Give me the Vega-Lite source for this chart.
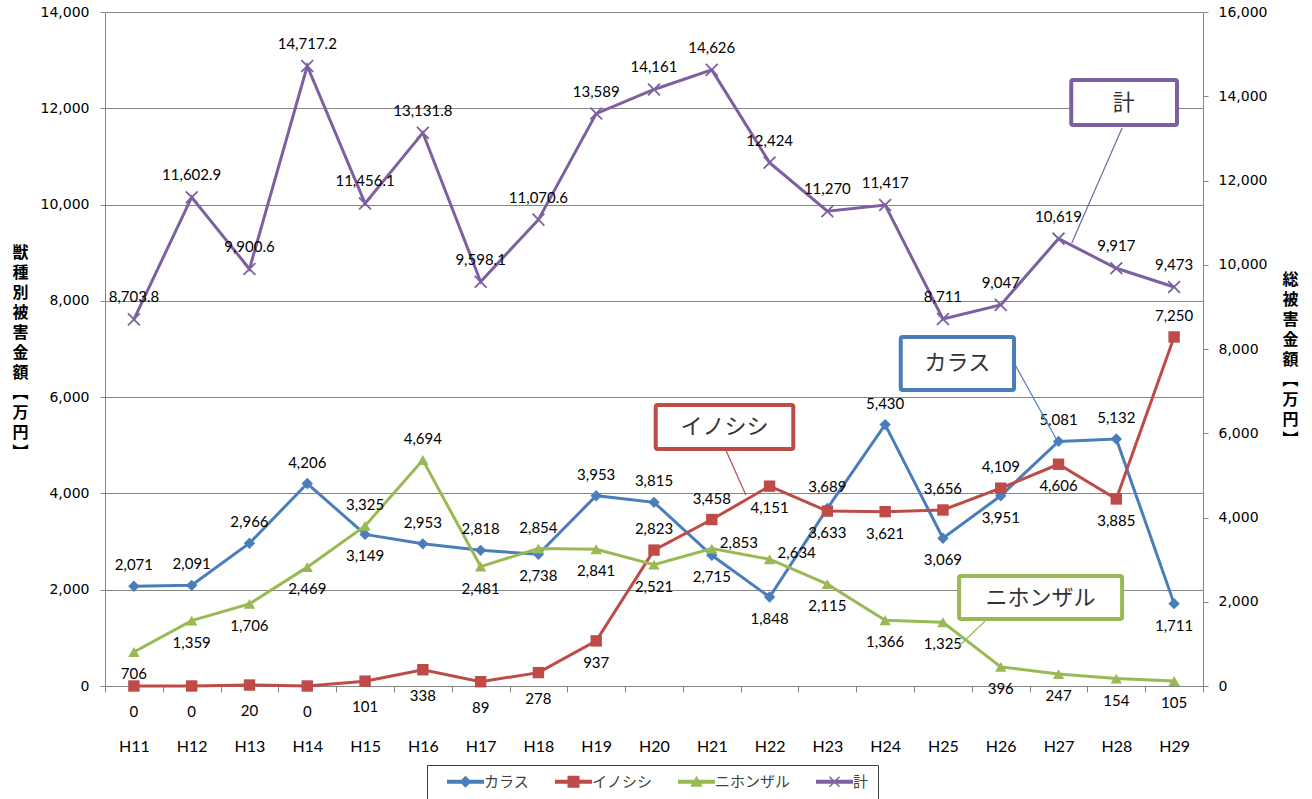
{
  "$schema": "https://vega.github.io/schema/vega-lite/v6.json",
  "width": 1098,
  "height": 674,
  "autosize": {"type": "none"},
  "padding": {"left": 105, "top": 12, "right": 109, "bottom": 113},
  "background": "#ffffff",
  "config": {
    "view": {"stroke": null},
    "axis": {"domainColor": "#868686", "tickColor": "#868686", "gridColor": "#868686", "labelColor": "#000000", "titleColor": "#000000"}
  },
  "datasets": {
    "damage": [
      {"year": 11, "series": "カラス", "value": 2071},
      {"year": 12, "series": "カラス", "value": 2091},
      {"year": 13, "series": "カラス", "value": 2966},
      {"year": 14, "series": "カラス", "value": 4206},
      {"year": 15, "series": "カラス", "value": 3149},
      {"year": 16, "series": "カラス", "value": 2953},
      {"year": 17, "series": "カラス", "value": 2818},
      {"year": 18, "series": "カラス", "value": 2738},
      {"year": 19, "series": "カラス", "value": 3953},
      {"year": 20, "series": "カラス", "value": 3815},
      {"year": 21, "series": "カラス", "value": 2715},
      {"year": 22, "series": "カラス", "value": 1848},
      {"year": 23, "series": "カラス", "value": 3689},
      {"year": 24, "series": "カラス", "value": 5430},
      {"year": 25, "series": "カラス", "value": 3069},
      {"year": 26, "series": "カラス", "value": 3951},
      {"year": 27, "series": "カラス", "value": 5081},
      {"year": 28, "series": "カラス", "value": 5132},
      {"year": 29, "series": "カラス", "value": 1711},
      {"year": 11, "series": "イノシシ", "value": 0},
      {"year": 12, "series": "イノシシ", "value": 0},
      {"year": 13, "series": "イノシシ", "value": 20},
      {"year": 14, "series": "イノシシ", "value": 0},
      {"year": 15, "series": "イノシシ", "value": 101},
      {"year": 16, "series": "イノシシ", "value": 338},
      {"year": 17, "series": "イノシシ", "value": 89},
      {"year": 18, "series": "イノシシ", "value": 278},
      {"year": 19, "series": "イノシシ", "value": 937},
      {"year": 20, "series": "イノシシ", "value": 2823},
      {"year": 21, "series": "イノシシ", "value": 3458},
      {"year": 22, "series": "イノシシ", "value": 4151},
      {"year": 23, "series": "イノシシ", "value": 3633},
      {"year": 24, "series": "イノシシ", "value": 3621},
      {"year": 25, "series": "イノシシ", "value": 3656},
      {"year": 26, "series": "イノシシ", "value": 4109},
      {"year": 27, "series": "イノシシ", "value": 4606},
      {"year": 28, "series": "イノシシ", "value": 3885},
      {"year": 29, "series": "イノシシ", "value": 7250},
      {"year": 11, "series": "ニホンザル", "value": 706},
      {"year": 12, "series": "ニホンザル", "value": 1359},
      {"year": 13, "series": "ニホンザル", "value": 1706},
      {"year": 14, "series": "ニホンザル", "value": 2469},
      {"year": 15, "series": "ニホンザル", "value": 3325},
      {"year": 16, "series": "ニホンザル", "value": 4694},
      {"year": 17, "series": "ニホンザル", "value": 2481},
      {"year": 18, "series": "ニホンザル", "value": 2854},
      {"year": 19, "series": "ニホンザル", "value": 2841},
      {"year": 20, "series": "ニホンザル", "value": 2521},
      {"year": 21, "series": "ニホンザル", "value": 2853},
      {"year": 22, "series": "ニホンザル", "value": 2634},
      {"year": 23, "series": "ニホンザル", "value": 2115},
      {"year": 24, "series": "ニホンザル", "value": 1366},
      {"year": 25, "series": "ニホンザル", "value": 1325},
      {"year": 26, "series": "ニホンザル", "value": 396},
      {"year": 27, "series": "ニホンザル", "value": 247},
      {"year": 28, "series": "ニホンザル", "value": 154},
      {"year": 29, "series": "ニホンザル", "value": 105},
      {"year": 11, "series": "計", "value": 8703.8},
      {"year": 12, "series": "計", "value": 11602.9},
      {"year": 13, "series": "計", "value": 9900.6},
      {"year": 14, "series": "計", "value": 14717.2},
      {"year": 15, "series": "計", "value": 11456.1},
      {"year": 16, "series": "計", "value": 13131.8},
      {"year": 17, "series": "計", "value": 9598.1},
      {"year": 18, "series": "計", "value": 11070.6},
      {"year": 19, "series": "計", "value": 13589},
      {"year": 20, "series": "計", "value": 14161},
      {"year": 21, "series": "計", "value": 14626},
      {"year": 22, "series": "計", "value": 12424},
      {"year": 23, "series": "計", "value": 11270},
      {"year": 24, "series": "計", "value": 11417},
      {"year": 25, "series": "計", "value": 8711},
      {"year": 26, "series": "計", "value": 9047},
      {"year": 27, "series": "計", "value": 10619},
      {"year": 28, "series": "計", "value": 9917},
      {"year": 29, "series": "計", "value": 9473}
    ],
    "callouts": [
      {"series": "計", "label": "計", "x1": 27.22, "x2": 29.05, "y1": 12588, "y2": 11653, "tx": 28.13, "ty": 12110, "lx1": 28.10, "ly1": 11590, "lx2": 27.23, "ly2": 9202},
      {"series": "カラス", "label": "カラス", "x1": 24.27, "x2": 26.23, "y1": 7249, "y2": 6148, "tx": 25.25, "ty": 6700, "lx1": 26.25, "ly1": 6668, "lx2": 26.97, "ly2": 5110},
      {"series": "イノシシ", "label": "イノシシ", "x1": 20.03, "x2": 22.41, "y1": 5837, "y2": 4923, "tx": 21.22, "ty": 5380, "lx1": 21.25, "ly1": 4881, "lx2": 21.59, "ly2": 3967},
      {"series": "ニホンザル", "label": "ニホンザル", "x1": 25.28, "x2": 28.10, "y1": 2285, "y2": 1392, "tx": 26.69, "ty": 1838, "lx1": 25.73, "ly1": 1350, "lx2": 25.26, "ly2": 810}
    ]
  },
  "encoding": {
    "x": {
      "field": "year", "type": "quantitative", "title": null,
      "scale": {"domain": [10.5, 29.5], "nice": false, "zero": false},
      "axis": {
        "values": [10.5, 11.5, 12.5, 13.5, 14.5, 15.5, 16.5, 17.5, 18.5, 19.5, 20.5, 21.5, 22.5, 23.5, 24.5, 25.5, 26.5, 27.5, 28.5, 29.5],
        "labelExpr": "datum.value < 29 ? 'H' + (datum.value + 0.5) : ''",
        "labelOffset": 28.9, "labelFlush": false, "labelOverlap": false, "labelBound": false,
        "tickSize": 6, "labelPadding": 46, "grid": false,
        "labelFont": "Lato", "labelFontSize": 16, "labelColor": "#000000",
        "domainColor": "#868686", "tickColor": "#868686"
      }
    }
  },
  "layer": [
    {
      "data": {"name": "damage"},
      "encoding": {
        "y": {
          "field": "value", "type": "quantitative",
          "scale": {"domain": [0, 14000], "nice": false, "zero": true},
          "axis": {
            "orient": "left",
            "values": [0, 2000, 4000, 6000, 8000, 10000, 12000, 14000],
            "format": ",.0f", "grid": true, "gridColor": "#868686", "gridWidth": 1,
            "tickSize": 5, "labelPadding": 11,
            "labelFont": "DejaVu Sans", "labelFontSize": 14, "labelColor": "#000000",
            "title": ["獣", "種", "別", "被", "害", "金", "額", "︻", "万", "円", "︼"],
            "titleAngle": 0, "titleX": -85, "titleY": 232, "titleAlign": "center", "titleBaseline": "top",
            "titleFont": "Noto Sans CJK JP", "titleFontSize": 16, "titleFontWeight": "bold", "titleLineHeight": 20
          }
        }
      },
      "layer": [
        {
          "transform": [{"filter": "datum.series !== '計'"}],
          "mark": {"type": "line", "strokeWidth": 3},
          "encoding": {
            "color": {
              "field": "series", "type": "nominal",
              "scale": {"domain": ["カラス", "イノシシ", "ニホンザル", "計"], "range": ["#4A7EBB", "#BE4B48", "#98B954", "#7D60A0"]},
              "legend": {
                "orient": "none", "legendX": 322, "legendY": 753, "direction": "horizontal", "title": null,
                "labelFont": "Noto Sans CJK JP", "labelFontSize": 15, "labelColor": "#404040",
                "symbolSize": 100, "labelOffset": 33, "columnPadding": 14, "padding": 9,
                "strokeColor": "#404040", "fillColor": "#ffffff",
                "encode": {
                  "symbols": {
                    "update": {
                      "shape": {"signal": "datum.value === 'カラス' ? 'M0.7,-0.4L8.1,-0.4L8.1,0.4L0.7,0.4ZM4.4,-1.2L5.6,0L4.4,1.2L3.2,0Z' : datum.value === 'イノシシ' ? 'M0.7,-0.4L8.1,-0.4L8.1,0.4L0.7,0.4ZM3.2,-1.2L5.6,-1.2L5.6,1.2L3.2,1.2Z' : datum.value === 'ニホンザル' ? 'M0.7,-0.4L8.1,-0.4L8.1,0.4L0.7,0.4ZM4.4,-1.2L5.65,1L3.15,1Z' : 'M0.7,-0.4L8.1,-0.4L8.1,0.4L0.7,0.4ZM3.3,-0.9L3.5,-1.1L5.5,0.9L5.3,1.1ZM5.3,-1.1L5.5,-0.9L3.5,1.1L3.3,0.9Z'"},
                      "fill": {"signal": "scale('color', datum.value)"},
                      "stroke": {"value": "transparent"},
                      "strokeWidth": {"value": 0},
                      "opacity": {"value": 1}
                    }
                  }
                }
              }
            }
          }
        },
        {
          "transform": [{"filter": "datum.series !== '計'"}],
          "mark": {"type": "point", "filled": true, "size": 130, "opacity": 1},
          "encoding": {
            "color": {"field": "series", "type": "nominal", "scale": {"domain": ["カラス", "イノシシ", "ニホンザル", "計"], "range": ["#4A7EBB", "#BE4B48", "#98B954", "#7D60A0"]}},
            "shape": {"field": "series", "type": "nominal", "scale": {"domain": ["カラス", "イノシシ", "ニホンザル"], "range": ["diamond", "square", "triangle-up"]}, "legend": null}
          }
        },
        {
          "transform": [
            {"filter": "datum.series !== '計'"},
            {"filter": "!((datum.series === 'カラス' && indexof([15,18,21,22,25,26,29], datum.year) >= 0) || (datum.series === 'イノシシ' && indexof([11,12,13,14,15,16,17,18,19,22,23,24,27,28], datum.year) >= 0) || (datum.series === 'ニホンザル' && indexof([11,12,13,14,17,19,20,21,22,23,24,25,26,27,28,29], datum.year) >= 0))"}
          ],
          "mark": {"type": "text", "dy": -21, "font": "Lato", "fontSize": 15, "color": "#000000", "baseline": "middle"},
          "encoding": {"text": {"field": "value", "format": ","}}
        },
        {
          "transform": [
            {"filter": "datum.series !== '計'"},
            {"filter": "(datum.series === 'カラス' && indexof([15,18,21,22,25,26,29], datum.year) >= 0) || (datum.series === 'ニホンザル' && indexof([11,12,13,14,17,19,20,23,24,25,26,27,28,29], datum.year) >= 0) || (datum.series === 'イノシシ' && indexof([19,22,23,24,27,28], datum.year) >= 0)"}
          ],
          "mark": {"type": "text", "dy": 22, "font": "Lato", "fontSize": 15, "color": "#000000", "baseline": "middle"},
          "encoding": {"text": {"field": "value", "format": ","}}
        },
        {
          "transform": [
            {"filter": "datum.series === 'イノシシ' && datum.year <= 18"}
          ],
          "mark": {"type": "text", "dy": 26, "font": "Lato", "fontSize": 15, "color": "#000000", "baseline": "middle"},
          "encoding": {"text": {"field": "value", "format": ","}}
        },
        {
          "transform": [
            {"filter": "datum.series === 'ニホンザル' && (datum.year === 21 || datum.year === 22)"}
          ],
          "mark": {"type": "text", "dx": 8, "dy": -6, "align": "left", "font": "Lato", "fontSize": 15, "color": "#000000", "baseline": "middle"},
          "encoding": {"text": {"field": "value", "format": ","}}
        },
        {
          "data": {"name": "callouts"},
          "mark": {"type": "rule", "strokeWidth": 1.2},
          "encoding": {
            "x": {"field": "lx1", "type": "quantitative", "title": null},
            "x2": {"field": "lx2"},
            "y": {"field": "ly1", "type": "quantitative", "title": null},
            "y2": {"field": "ly2"},
            "color": {"field": "series", "type": "nominal", "scale": {"domain": ["カラス", "イノシシ", "ニホンザル", "計"], "range": ["#4A7EBB", "#BE4B48", "#98B954", "#7D60A0"]}}
          }
        },
        {
          "data": {"name": "callouts"},
          "mark": {"type": "rect", "filled": false, "fill": "#ffffff", "strokeWidth": 4, "cornerRadius": 2},
          "encoding": {
            "x": {"field": "x1", "type": "quantitative", "title": null},
            "x2": {"field": "x2"},
            "y": {"field": "y1", "type": "quantitative", "title": null},
            "y2": {"field": "y2"},
            "color": {"field": "series", "type": "nominal", "scale": {"domain": ["カラス", "イノシシ", "ニホンザル", "計"], "range": ["#4A7EBB", "#BE4B48", "#98B954", "#7D60A0"]}}
          }
        },
        {
          "data": {"name": "callouts"},
          "mark": {"type": "text", "font": "Noto Sans CJK JP", "fontSize": 22, "color": "#333333", "align": "center", "baseline": "middle"},
          "encoding": {
            "x": {"field": "tx", "type": "quantitative", "title": null},
            "y": {"field": "ty", "type": "quantitative", "title": null},
            "text": {"field": "label"}
          }
        }
      ]
    },
    {
      "data": {"name": "damage"},
      "transform": [{"filter": "datum.series === '計'"}],
      "encoding": {
        "y": {
          "field": "value", "type": "quantitative",
          "scale": {"domain": [0, 16000], "nice": false, "zero": true},
          "axis": {
            "orient": "right",
            "values": [0, 2000, 4000, 6000, 8000, 10000, 12000, 14000, 16000],
            "format": ",.0f", "grid": false,
            "tickSize": 5, "labelPadding": 10,
            "labelFont": "DejaVu Sans", "labelFontSize": 14, "labelColor": "#000000",
            "title": ["総", "被", "害", "金", "額", "︻", "万", "円", "︼"],
            "titleAngle": 0, "titleX": 87, "titleY": 259, "titleAlign": "center", "titleBaseline": "top",
            "titleFont": "Noto Sans CJK JP", "titleFontSize": 16, "titleFontWeight": "bold", "titleLineHeight": 20
          }
        }
      },
      "layer": [
        {
          "mark": {"type": "line", "strokeWidth": 3},
          "encoding": {"color": {"field": "series", "type": "nominal", "scale": {"domain": ["カラス", "イノシシ", "ニホンザル", "計"], "range": ["#4A7EBB", "#BE4B48", "#98B954", "#7D60A0"]}}}
        },
        {
          "mark": {"type": "point", "shape": "M-1,-1L1,1M-1,1L1,-1", "filled": false, "size": 140, "strokeWidth": 1.8, "opacity": 1},
          "encoding": {"color": {"field": "series", "type": "nominal", "scale": {"domain": ["カラス", "イノシシ", "ニホンザル", "計"], "range": ["#4A7EBB", "#BE4B48", "#98B954", "#7D60A0"]}}}
        },
        {
          "mark": {"type": "text", "dy": -22, "font": "Lato", "fontSize": 15, "color": "#000000", "baseline": "middle"},
          "encoding": {"text": {"field": "value", "format": ","}}
        }
      ]
    }
  ],
  "resolve": {"scale": {"y": "independent"}}
}
